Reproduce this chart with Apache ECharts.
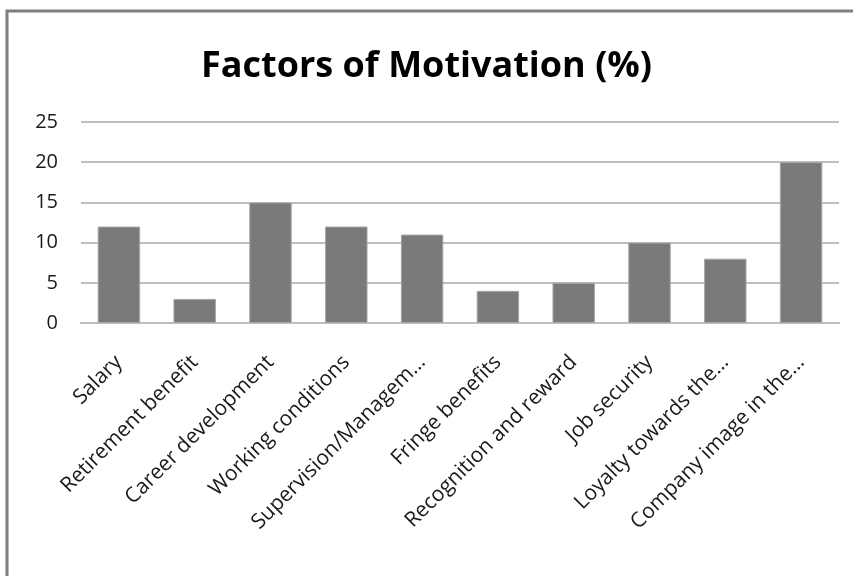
<!DOCTYPE html>
<html>
<head>
<meta charset="utf-8">
<script src="https://cdn.jsdelivr.net/npm/echarts@6/dist/echarts.min.js"></script>
<style>
  html, body { margin: 0; padding: 0; background: #fff; }
  #chart { width: 853px; height: 576px; }
</style>
</head>
<body>
<div id="chart"></div>
<script>
var categories = ['Salary', 'Retirement benefit', 'Career development', 'Working conditions',
    'Supervision/Managem…', 'Fringe benefits', 'Recognition and reward', 'Job security',
    'Loyalty towards the…', 'Company image in the…'];
var percentValues = [12, 3, 15, 12, 11, 4, 5, 10, 8, 20];
var yTicks = [0, 5, 10, 15, 20, 25];

var chart = echarts.init(document.getElementById('chart'));

var option = {
    animation: false,
    backgroundColor: '#fff',
    graphic: [
        {
            type: 'rect',
            shape: { x: 7, y: 11, width: 900, height: 620 },
            style: { fill: 'none', stroke: '#7f7f7f', lineWidth: 3 },
            silent: true
        }
    ],
    title: {
        text: 'Factors of Motivation (%)',
        left: 'center',
        top: 44,
        textStyle: {
            fontFamily: 'Open Sans',
            fontSize: 36,
            fontWeight: 'bold',
            color: '#000'
        }
    },
    grid: {
        left: 81,
        right: 14,
        top: 122,
        bottom: 253
    },
    xAxis: {
        type: 'category',
        data: categories,
        axisTick: { show: false },
        axisLine: { lineStyle: { color: '#bfbfbf', width: 2 } },
        axisLabel: {
            interval: 0,
            rotate: 45,
            margin: 36,
            fontFamily: 'Open Sans',
            fontSize: 21,
            color: '#1a1a1a'
        }
    },
    yAxis: {
        type: 'value',
        min: yTicks[0],
        max: yTicks[yTicks.length - 1],
        interval: 5,
        axisLine: { show: false },
        axisTick: { show: false },
        splitLine: { lineStyle: { color: '#bfbfbf', width: 2 } },
        axisLabel: {
            margin: 23,
            fontFamily: 'Open Sans',
            fontSize: 20,
            color: '#1a1a1a'
        }
    },
    series: [
        {
            type: 'bar',
            data: percentValues,
            barWidth: '56%',
            itemStyle: {
                color: '#7a7a7a',
                borderColor: '#a6a6a6',
                borderWidth: 1
            }
        }
    ]
};

chart.setOption(option);
</script>
</body>
</html>
